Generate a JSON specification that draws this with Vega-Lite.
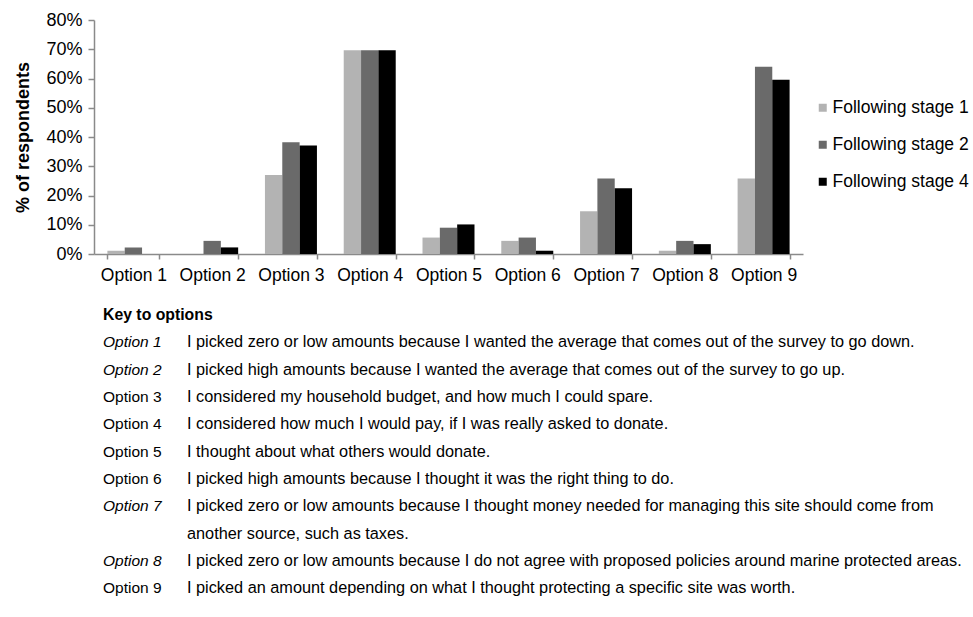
{
  "$schema": "https://vega.github.io/schema/vega-lite/v6.json",
  "background": "white",
  "padding": {"left": 14, "top": 11, "right": 5, "bottom": 5},
  "config": {
    "font": "Liberation Sans",
    "view": {"stroke": null},
    "concat": {"spacing": 23}
  },
  "vconcat": [
    {
      "width": 709,
      "height": 234,
      "data": {
        "values": [
          {"option": "Option 1", "stage": "Following stage 1", "pct": 1.12},
          {"option": "Option 1", "stage": "Following stage 2", "pct": 2.25},
          {"option": "Option 1", "stage": "Following stage 4", "pct": 0},
          {"option": "Option 2", "stage": "Following stage 1", "pct": 0},
          {"option": "Option 2", "stage": "Following stage 2", "pct": 4.49},
          {"option": "Option 2", "stage": "Following stage 4", "pct": 2.25},
          {"option": "Option 3", "stage": "Following stage 1", "pct": 26.97},
          {"option": "Option 3", "stage": "Following stage 2", "pct": 38.2},
          {"option": "Option 3", "stage": "Following stage 4", "pct": 37.08},
          {"option": "Option 4", "stage": "Following stage 1", "pct": 69.66},
          {"option": "Option 4", "stage": "Following stage 2", "pct": 69.66},
          {"option": "Option 4", "stage": "Following stage 4", "pct": 69.66},
          {"option": "Option 5", "stage": "Following stage 1", "pct": 5.62},
          {"option": "Option 5", "stage": "Following stage 2", "pct": 8.99},
          {"option": "Option 5", "stage": "Following stage 4", "pct": 10.11},
          {"option": "Option 6", "stage": "Following stage 1", "pct": 4.49},
          {"option": "Option 6", "stage": "Following stage 2", "pct": 5.62},
          {"option": "Option 6", "stage": "Following stage 4", "pct": 1.12},
          {"option": "Option 7", "stage": "Following stage 1", "pct": 14.61},
          {"option": "Option 7", "stage": "Following stage 2", "pct": 25.84},
          {"option": "Option 7", "stage": "Following stage 4", "pct": 22.47},
          {"option": "Option 8", "stage": "Following stage 1", "pct": 1.12},
          {"option": "Option 8", "stage": "Following stage 2", "pct": 4.49},
          {"option": "Option 8", "stage": "Following stage 4", "pct": 3.37},
          {"option": "Option 9", "stage": "Following stage 1", "pct": 25.84},
          {"option": "Option 9", "stage": "Following stage 2", "pct": 64.04},
          {"option": "Option 9", "stage": "Following stage 4", "pct": 59.55}
        ]
      },
      "mark": {"type": "bar"},
      "encoding": {
        "x": {
          "field": "option", "type": "nominal", "sort": null,
          "scale": {"paddingInner": 0.34, "paddingOuter": 0.17},
          "axis": {
            "title": null, "labelAngle": 0, "labelFontSize": 17.5, "labelColor": "#000",
            "domainColor": "#8a8a8a", "tickColor": "#8a8a8a", "domainWidth": 1.5, "tickWidth": 1.5,
            "tickBand": "extent", "tickSize": 5, "labelPadding": 7, "grid": false
          }
        },
        "xOffset": {"field": "stage", "type": "nominal", "sort": null, "scale": {"paddingInner": 0, "paddingOuter": 0}},
        "y": {
          "field": "pct", "type": "quantitative",
          "scale": {"domain": [0, 80], "nice": false},
          "axis": {
            "title": "% of respondents", "titleFontSize": 18, "titleFontWeight": "bold", "titleColor": "#000", "titlePadding": 13,
            "values": [0, 10, 20, 30, 40, 50, 60, 70, 80],
            "labelExpr": "datum.value + '%'",
            "labelFontSize": 18, "labelColor": "#000", "labelPadding": 6,
            "domainColor": "#8a8a8a", "tickColor": "#8a8a8a", "domainWidth": 1.5, "tickWidth": 1.5,
            "tickSize": 6, "grid": false
          }
        },
        "color": {
          "field": "stage", "type": "nominal",
          "scale": {"domain": ["Following stage 1", "Following stage 2", "Following stage 4"], "range": ["#b3b3b3", "#6a6a6a", "#000000"]},
          "legend": {
            "title": null, "orient": "none", "legendX": 720, "legendY": 79, "padding": 0,
            "symbolType": "square", "symbolSize": 64, "symbolStrokeWidth": 0,
            "labelFontSize": 17.5, "labelColor": "#000", "labelOffset": 1, "rowPadding": 18
          }
        }
      }
    },
    {
      "width": 709,
      "height": 273.3,
      "data": {
        "values": [
          {"line": 0, "option": "Key to options", "description": "", "kind": "header"},
          {"line": 1, "option": "Option 1", "description": "I picked zero or low amounts because I wanted the average that comes out of the survey to go down.", "kind": "italic"},
          {"line": 2, "option": "Option 2", "description": "I picked high amounts because I wanted the average that comes out of the survey to go up.", "kind": "italic"},
          {"line": 3, "option": "Option 3", "description": "I considered my household budget, and how much I could spare.", "kind": "normal"},
          {"line": 4, "option": "Option 4", "description": "I considered how much I would pay, if I was really asked to donate.", "kind": "normal"},
          {"line": 5, "option": "Option 5", "description": "I thought about what others would donate.", "kind": "normal"},
          {"line": 6, "option": "Option 6", "description": "I picked high amounts because I thought it was the right thing to do.", "kind": "normal"},
          {"line": 7, "option": "Option 7", "description": "I picked zero or low amounts because I thought money needed for managing this site should come from", "kind": "italic"},
          {"line": 8, "option": "", "description": "another source, such as taxes.", "kind": "continuation"},
          {"line": 9, "option": "Option 8", "description": "I picked zero or low amounts because I do not agree with proposed policies around marine protected areas.", "kind": "italic"},
          {"line": 10, "option": "Option 9", "description": "I picked an amount depending on what I thought protecting a specific site was worth.", "kind": "normal"}
        ]
      },
      "encoding": {
        "y": {"field": "line", "type": "quantitative", "scale": {"domain": [0, 10], "reverse": true, "nice": false, "zero": false}, "axis": null}
      },
      "layer": [
        {
          "transform": [{"filter": "datum.kind === 'header'"}],
          "mark": {"type": "text", "align": "left", "baseline": "middle", "fontSize": 15.8, "fontWeight": "bold", "color": "#000"},
          "encoding": {
            "x": {"datum": "label", "type": "nominal", "scale": {"domain": ["label", "description"], "range": [9, 93], "padding": 0}, "axis": null},
            "text": {"field": "option"}
          }
        },
        {
          "transform": [{"filter": "datum.kind === 'italic'"}],
          "mark": {"type": "text", "align": "left", "baseline": "middle", "fontSize": 15.5, "fontStyle": "italic", "color": "#000"},
          "encoding": {
            "x": {"datum": "label", "type": "nominal"},
            "text": {"field": "option"}
          }
        },
        {
          "transform": [{"filter": "datum.kind === 'normal'"}],
          "mark": {"type": "text", "align": "left", "baseline": "middle", "fontSize": 15.5, "color": "#000"},
          "encoding": {
            "x": {"datum": "label", "type": "nominal"},
            "text": {"field": "option"}
          }
        },
        {
          "transform": [{"filter": "datum.description !== ''"}],
          "mark": {"type": "text", "align": "left", "baseline": "middle", "fontSize": 16.3, "color": "#000"},
          "encoding": {
            "x": {"datum": "description", "type": "nominal"},
            "text": {"field": "description"}
          }
        }
      ]
    }
  ]
}
